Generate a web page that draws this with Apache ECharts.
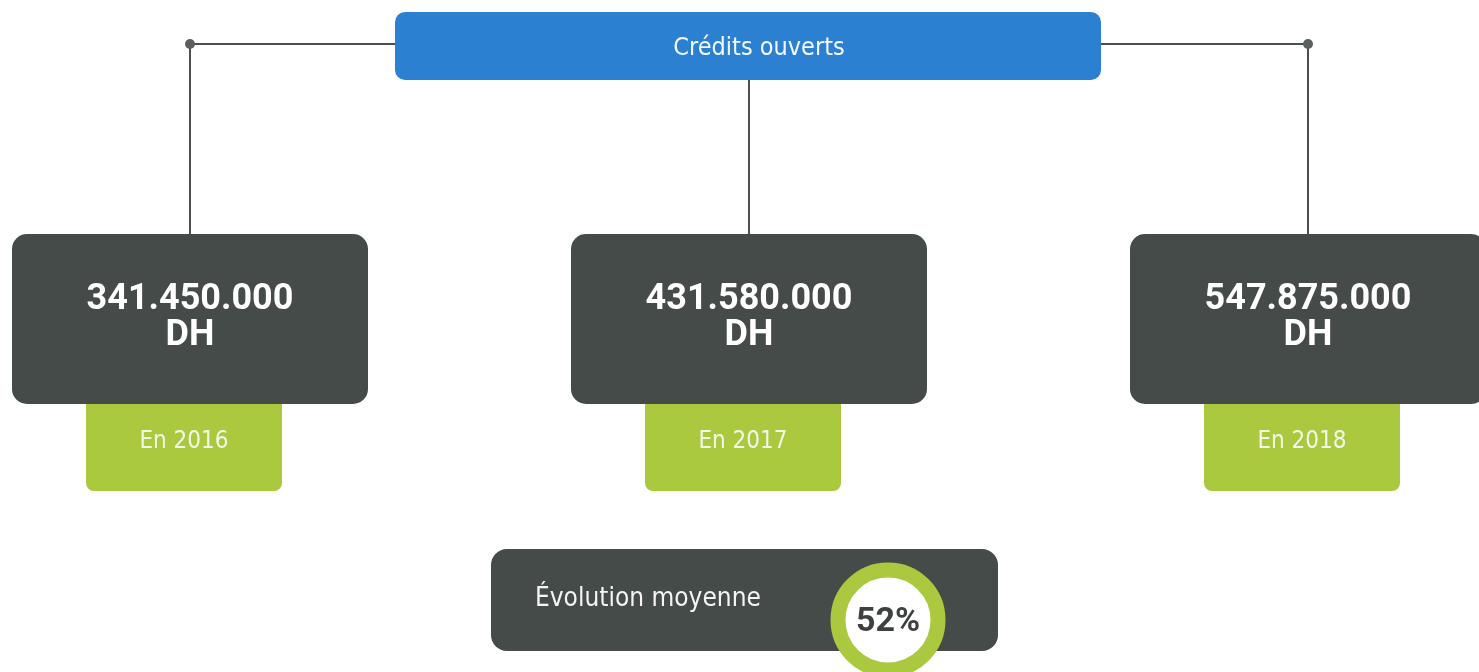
<!DOCTYPE html>
<html>
<head>
<meta charset="utf-8">
<script src="https://cdn.jsdelivr.net/npm/echarts@6/dist/echarts.min.js"></script>
<style>
    html, body { margin: 0; padding: 0; background: #fff; }
    #chart { width: 1479px; height: 672px; }
</style>
</head>
<body>
<div id="chart"></div>
<script>
// data
var years = ['2016', '2017', '2018'];
var credits = [341450000, 431580000, 547875000];
var currency = 'DH';
var headerLabel = 'Crédits ouverts';
var evolutionLabel = 'Évolution moyenne';
var evolution = 52;

var NARROW = '"DejaVu Sans Condensed", "DejaVu Sans", sans-serif';
var DARK = '#454b48';
var GREEN = '#aac93f';
var BLUE = '#2b80d2';
var LINE = '#4b4f4d';

// 341450000 -> 341.450.000
function fmt(v) {
    return String(v).replace(/\B(?=(\d{3})+(?!\d))/g, '.');
}

var chart = echarts.init(document.getElementById('chart'));

function renderYear(params, api) {
    var cx = api.coord([api.value(0), 0])[0];
    var mid = 748; // centre of the header box
    var value = credits[params.dataIndex];
    return {
        type: 'group',
        children: [
            // connectors
            {
                type: 'line',
                shape: { x1: cx, y1: 44, x2: mid, y2: 44 },
                style: { stroke: LINE, lineWidth: 2 }
            },
            {
                type: 'line',
                shape: { x1: cx, y1: 44, x2: cx, y2: 236 },
                style: { stroke: LINE, lineWidth: 2 }
            },
            {
                type: 'circle',
                shape: { cx: cx, cy: 44, r: 5 },
                style: { fill: '#5b605d' }
            },
            // green year tab
            {
                type: 'rect',
                shape: { x: cx - 104, y: 395, width: 196, height: 96, r: [0, 0, 8, 8] },
                style: { fill: GREEN }
            },
            {
                type: 'text',
                style: {
                    text: 'En ' + years[params.dataIndex],
                    x: cx - 6, y: 442,
                    align: 'center', verticalAlign: 'middle',
                    fontFamily: NARROW, fontSize: 24,
                    fill: '#f3f7e8'
                }
            },
            // dark value box
            {
                type: 'rect',
                shape: { x: cx - 178, y: 234, width: 356, height: 170, r: 15 },
                style: { fill: DARK }
            },
            {
                type: 'text',
                style: {
                    text: fmt(value) + '\n' + currency,
                    x: cx, y: 318,
                    align: 'center', verticalAlign: 'middle',
                    fontFamily: 'Roboto', fontWeight: 'bold', fontSize: 36,
                    lineHeight: 36,
                    fill: '#ffffff'
                }
            }
        ]
    };
}

var option = {
    animation: false,
    backgroundColor: '#ffffff',
    grid: { left: 190, right: 171, top: 0, bottom: 0 },
    xAxis: { type: 'value', min: 0, max: 2, show: false },
    yAxis: { type: 'value', show: false },
    graphic: [
        {
            type: 'rect', z: 10,
            shape: { x: 395, y: 12, width: 706, height: 68, r: 10 },
            style: { fill: BLUE }
        },
        {
            type: 'text', z: 11,
            style: {
                text: headerLabel,
                x: 759, y: 48,
                align: 'center', verticalAlign: 'middle',
                fontFamily: NARROW, fontSize: 25,
                fill: '#f4f8fc'
            }
        },
        {
            type: 'rect', z: 10,
            shape: { x: 491, y: 549, width: 507, height: 102, r: 16 },
            style: { fill: DARK }
        },
        {
            type: 'text', z: 11,
            style: {
                text: evolutionLabel,
                x: 535, y: 599,
                align: 'left', verticalAlign: 'middle',
                fontFamily: NARROW, fontSize: 26,
                fill: '#f4f5f4'
            }
        },
        {
            type: 'circle', z: 12,
            shape: { cx: 888, cy: 620, r: 50 },
            style: { fill: '#ffffff', stroke: GREEN, lineWidth: 15 }
        },
        {
            type: 'text', z: 13,
            style: {
                text: evolution + '%',
                x: 888, y: 622,
                align: 'center', verticalAlign: 'middle',
                fontFamily: 'Roboto', fontWeight: 'bold', fontSize: 34,
                fill: '#3d423f'
            }
        }
    ],
    series: [{
        type: 'custom',
        coordinateSystem: 'cartesian2d',
        data: years.map(function (y, i) { return [i, credits[i]]; }),
        renderItem: renderYear
    }]
};

chart.setOption(option);
</script>
</body>
</html>
